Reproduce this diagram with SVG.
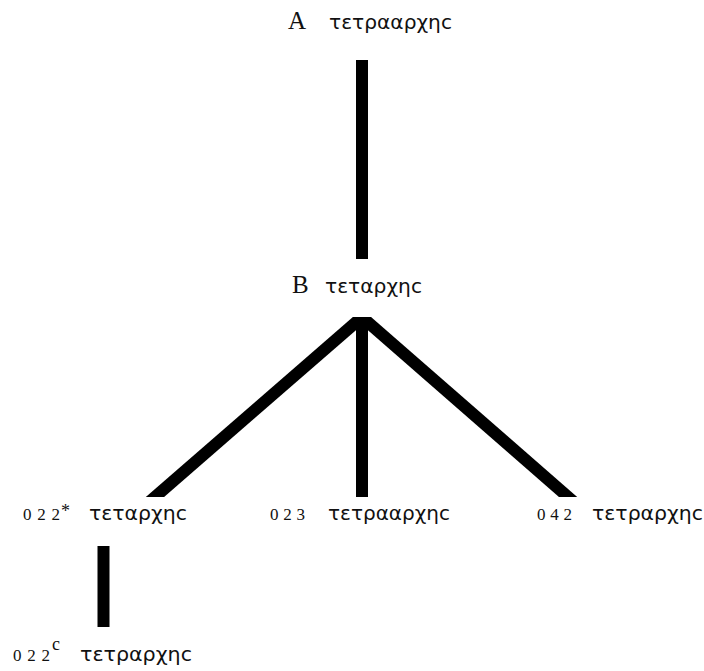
<svg xmlns="http://www.w3.org/2000/svg" width="704" height="671" viewBox="0 0 704 671">
  <style>
    .sig { font-family: "Liberation Serif", "DejaVu Serif", serif; font-size: 25px; fill: #111; }
    .num { font-family: "Liberation Serif", "DejaVu Serif", serif; font-size: 17px; fill: #111; }
    .sup { font-family: "Liberation Serif", "DejaVu Serif", serif; font-size: 18px; fill: #111; }
    .gr  { font-family: "DejaVu Sans", "Noto Sans", sans-serif; font-size: 20px; fill: #111; }
    .edge { stroke: #000; stroke-width: 12; stroke-linecap: butt; fill: none; }
  </style>
  <defs>
    <clipPath id="fanClip">
      <rect x="0" y="317" width="704" height="180"/>
    </clipPath>
  </defs>

  <!-- connectors -->
  <g id="connectors">
    <line class="edge" x1="362" y1="60" x2="362" y2="259"/>
    <g clip-path="url(#fanClip)">
      <line class="edge" x1="372.4" y1="308" x2="144.6" y2="506"/>
      <line class="edge" x1="362" y1="310" x2="362" y2="506"/>
      <line class="edge" x1="351.6" y1="308" x2="578.4" y2="506"/>
    </g>
    <line class="edge" x1="103.5" y1="546" x2="103.5" y2="627"/>
  </g>

  <!-- nodes -->
  <g id="node-A">
    <text class="sig" x="288" y="29">A</text>
    <text class="gr" x="329" y="29" textLength="123" lengthAdjust="spacingAndGlyphs">τετρααρχηϲ</text>
  </g>

  <g id="node-B">
    <text class="sig" x="292" y="293">B</text>
    <text class="gr" x="325" y="293" textLength="97" lengthAdjust="spacingAndGlyphs">τεταρχηϲ</text>
  </g>

  <g id="node-022star">
    <text class="num" x="23" y="520" textLength="37" lengthAdjust="spacing">022</text>
    <text class="sup" x="61" y="517">*</text>
    <text class="gr" x="89" y="520" textLength="98" lengthAdjust="spacingAndGlyphs">τεταρχηϲ</text>
  </g>

  <g id="node-023">
    <text class="num" x="270" y="520" textLength="35" lengthAdjust="spacing">023</text>
    <text class="gr" x="328" y="520" textLength="122" lengthAdjust="spacingAndGlyphs">τετρααρχηϲ</text>
  </g>

  <g id="node-042">
    <text class="num" x="537" y="520" textLength="35" lengthAdjust="spacing">042</text>
    <text class="gr" x="592" y="520" textLength="111" lengthAdjust="spacingAndGlyphs">τετραρχηϲ</text>
  </g>

  <g id="node-022c">
    <text class="num" x="13" y="661" textLength="37" lengthAdjust="spacing">022</text>
    <text class="sup" x="52" y="650" font-size="14">c</text>
    <text class="gr" x="80" y="661" textLength="112" lengthAdjust="spacingAndGlyphs">τετραρχηϲ</text>
  </g>
</svg>
